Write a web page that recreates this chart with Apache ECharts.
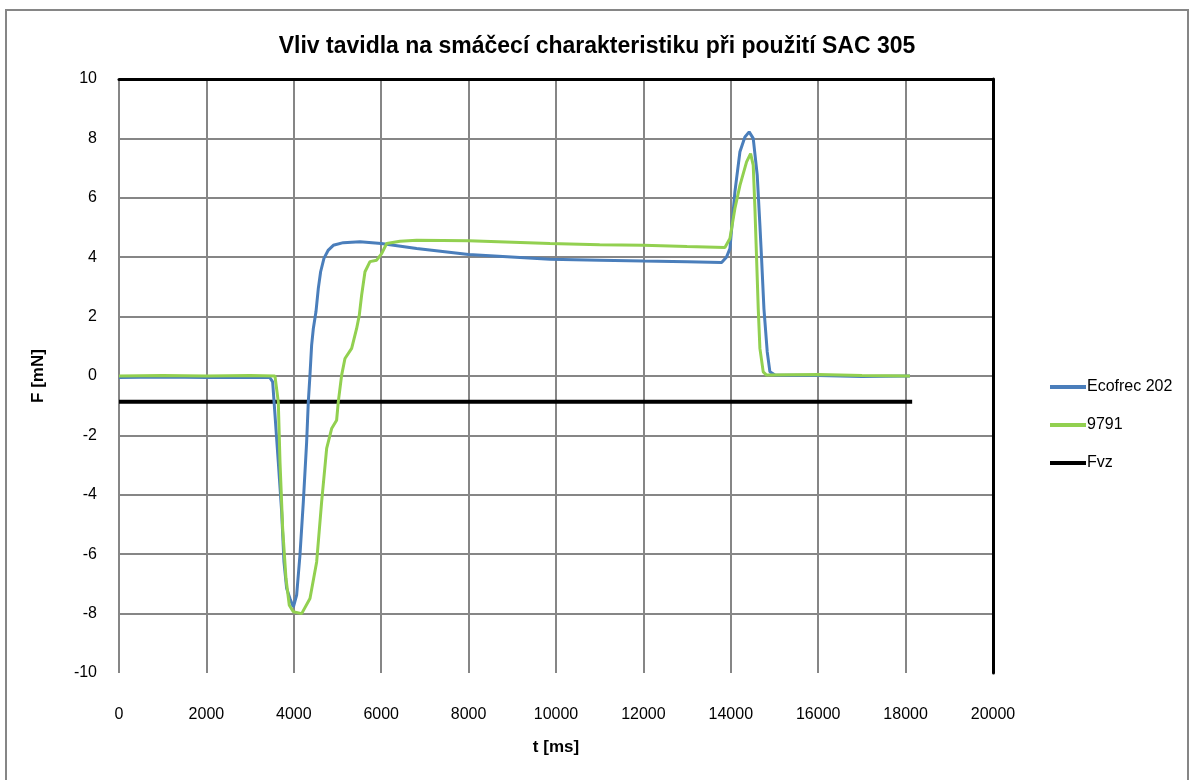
<!DOCTYPE html>
<html>
<head>
<meta charset="utf-8">
<title>Vliv tavidla na smáčecí charakteristiku</title>
<script src="https://cdn.jsdelivr.net/npm/echarts@6/dist/echarts.min.js"></script>
<style>
  html, body { margin: 0; padding: 0; background: #fff; }
  #chart { width: 1194px; height: 780px; }
</style>
</head>
<body>
<div id="chart"></div>
<script>
// casy mereni [ms] a sila [mN]
const ecoT = [0, 1000, 2000, 3000, 3450, 3516, 3570, 3645, 3722, 3775, 3836, 3912, 3990, 4065, 4141, 4218, 4294, 4332, 4370, 4408, 4447, 4507, 4561, 4614, 4690, 4790, 4904, 5133, 5514, 6000, 6811, 8000, 9862, 11000, 12000, 13000, 13790, 13904, 13980, 14094, 14209, 14323, 14420, 14513, 14605, 14666, 14704, 14758, 14834, 14895, 15010, 16000, 17000, 18100]
const ecoF = [-0.05, -0.03, -0.05, -0.04, -0.05, -0.2, -1.32, -2.89, -4.57, -6.26, -7.15, -7.49, -7.78, -7.38, -6.03, -4.24, -2.22, -0.87, 0.03, 1.04, 1.6, 2.16, 2.95, 3.51, 3.96, 4.24, 4.4, 4.49, 4.52, 4.46, 4.29, 4.09, 3.93, 3.9, 3.87, 3.85, 3.82, 4.01, 4.29, 6.2, 7.55, 8.05, 8.22, 8.0, 6.76, 5.08, 3.96, 2.27, 0.81, 0.14, 0.03, 0.02, -0.02, 0.0]

const t9791 = [0, 1000, 2000, 3000, 3569, 3645, 3684, 3745, 3821, 3897, 3989, 4180, 4370, 4523, 4637, 4752, 4866, 4980, 5018, 5095, 5171, 5324, 5438, 5499, 5552, 5629, 5743, 5896, 6010, 6125, 6430, 6811, 8000, 9862, 11000, 12000, 13000, 13865, 13980, 14094, 14209, 14361, 14453, 14513, 14552, 14590, 14628, 14666, 14742, 14818, 16000, 17000, 18100]
const f9791 = [0.0, 0.02, 0.0, 0.02, 0.0, -0.87, -2.89, -5.13, -6.82, -7.72, -7.94, -8.0, -7.49, -6.26, -4.24, -2.44, -1.77, -1.49, -0.87, 0.03, 0.59, 0.93, 1.6, 2.05, 2.72, 3.51, 3.85, 3.9, 4.12, 4.46, 4.54, 4.57, 4.55, 4.46, 4.42, 4.4, 4.36, 4.33, 4.63, 5.64, 6.42, 7.21, 7.49, 7.1, 5.64, 3.96, 2.27, 0.93, 0.14, 0.03, 0.05, 0.02, 0.0]

const fvzT = [0, 18150]
const fvzF = [-0.87, -0.87]

const seriesNames = ['Ecofrec 202', '9791', 'Fvz']
const colors = ['#4a7ebb', '#92d050', '#000000']

function pairs(xs, ys) {
  return xs.map(function(x, i) { return [x, ys[i]] })
}

const font = '"Liberation Sans", sans-serif'
const gridColor = '#868686'

const chart = echarts.init(document.getElementById('chart'))
chart.setOption({
  animation: false,
  textStyle: { fontFamily: font },
  title: {
    text: 'Vliv tavidla na smáčecí charakteristiku při použití SAC 305',
    left: 'center',
    top: 30,
    textStyle: { fontFamily: font, fontSize: 23, fontWeight: 'bold', color: '#000' }
  },
  graphic: [{
    type: 'rect',
    shape: { x: 6, y: 10, width: 1182, height: 790 },
    style: { fill: 'none', stroke: gridColor, lineWidth: 2 },
    silent: true
  }],
  legend: {
    orient: 'vertical',
    left: 1045,
    top: 374,
    itemGap: 22,
    itemWidth: 36,
    itemHeight: 4,
    textStyle: { fontFamily: font, fontSize: 16, color: '#000', padding: [0, 0, 0, -4] },
    data: seriesNames.map(function(n) { return { name: n, icon: 'rect' } })
  },
  grid: { left: 119, right: 201, top: 79, bottom: 107 },
  xAxis: [{
    type: 'value',
    min: 0,
    max: 20000,
    interval: 2000,
    name: 't [ms]',
    nameLocation: 'middle',
    nameGap: 66,
    nameTextStyle: { fontFamily: font, fontSize: 17, fontWeight: 'bold', color: '#000' },
    axisLine: { show: false },
    axisTick: { show: false },
    axisLabel: {
      margin: 34, fontSize: 16, color: '#000', fontFamily: font,
      formatter: function(v) { return String(v) }
    },
    splitLine: { show: true, showMaxLine: false, lineStyle: { color: gridColor, width: 2 } }
  }, {
    type: 'value',
    position: 'top',
    min: 0,
    max: 20000,
    axisLine: { show: true, onZero: false, lineStyle: { color: '#000', width: 3 } },
    axisTick: { show: false },
    axisLabel: { show: false },
    splitLine: { show: false }
  }],
  yAxis: [{
    type: 'value',
    min: -10,
    max: 10,
    interval: 2,
    name: 'F [mN]',
    nameLocation: 'middle',
    nameGap: 72,
    nameTextStyle: { fontFamily: font, fontSize: 17, fontWeight: 'bold', color: '#000' },
    axisLine: { show: false },
    axisTick: { show: false },
    axisLabel: { margin: 22, fontSize: 16, color: '#000', fontFamily: font },
    splitLine: { show: true, showMinLine: false, showMaxLine: false, lineStyle: { color: gridColor, width: 2 } }
  }, {
    type: 'value',
    position: 'right',
    min: -10,
    max: 10,
    axisLine: { show: true, onZero: false, lineStyle: { color: '#000', width: 3 } },
    axisTick: { show: false },
    axisLabel: { show: false },
    splitLine: { show: false }
  }],
  series: [{
    name: seriesNames[0],
    type: 'line',
    data: pairs(ecoT, ecoF),
    showSymbol: false,
    symbol: 'none',
    lineStyle: { color: colors[0], width: 3 },
    itemStyle: { color: colors[0] },
    z: 3
  }, {
    name: seriesNames[1],
    type: 'line',
    data: pairs(t9791, f9791),
    showSymbol: false,
    symbol: 'none',
    lineStyle: { color: colors[1], width: 3 },
    itemStyle: { color: colors[1] },
    z: 4
  }, {
    name: seriesNames[2],
    type: 'line',
    data: pairs(fvzT, fvzF),
    showSymbol: false,
    symbol: 'none',
    lineStyle: { color: colors[2], width: 4 },
    itemStyle: { color: colors[2] },
    z: 2
  }]
})
</script>
</body>
</html>
